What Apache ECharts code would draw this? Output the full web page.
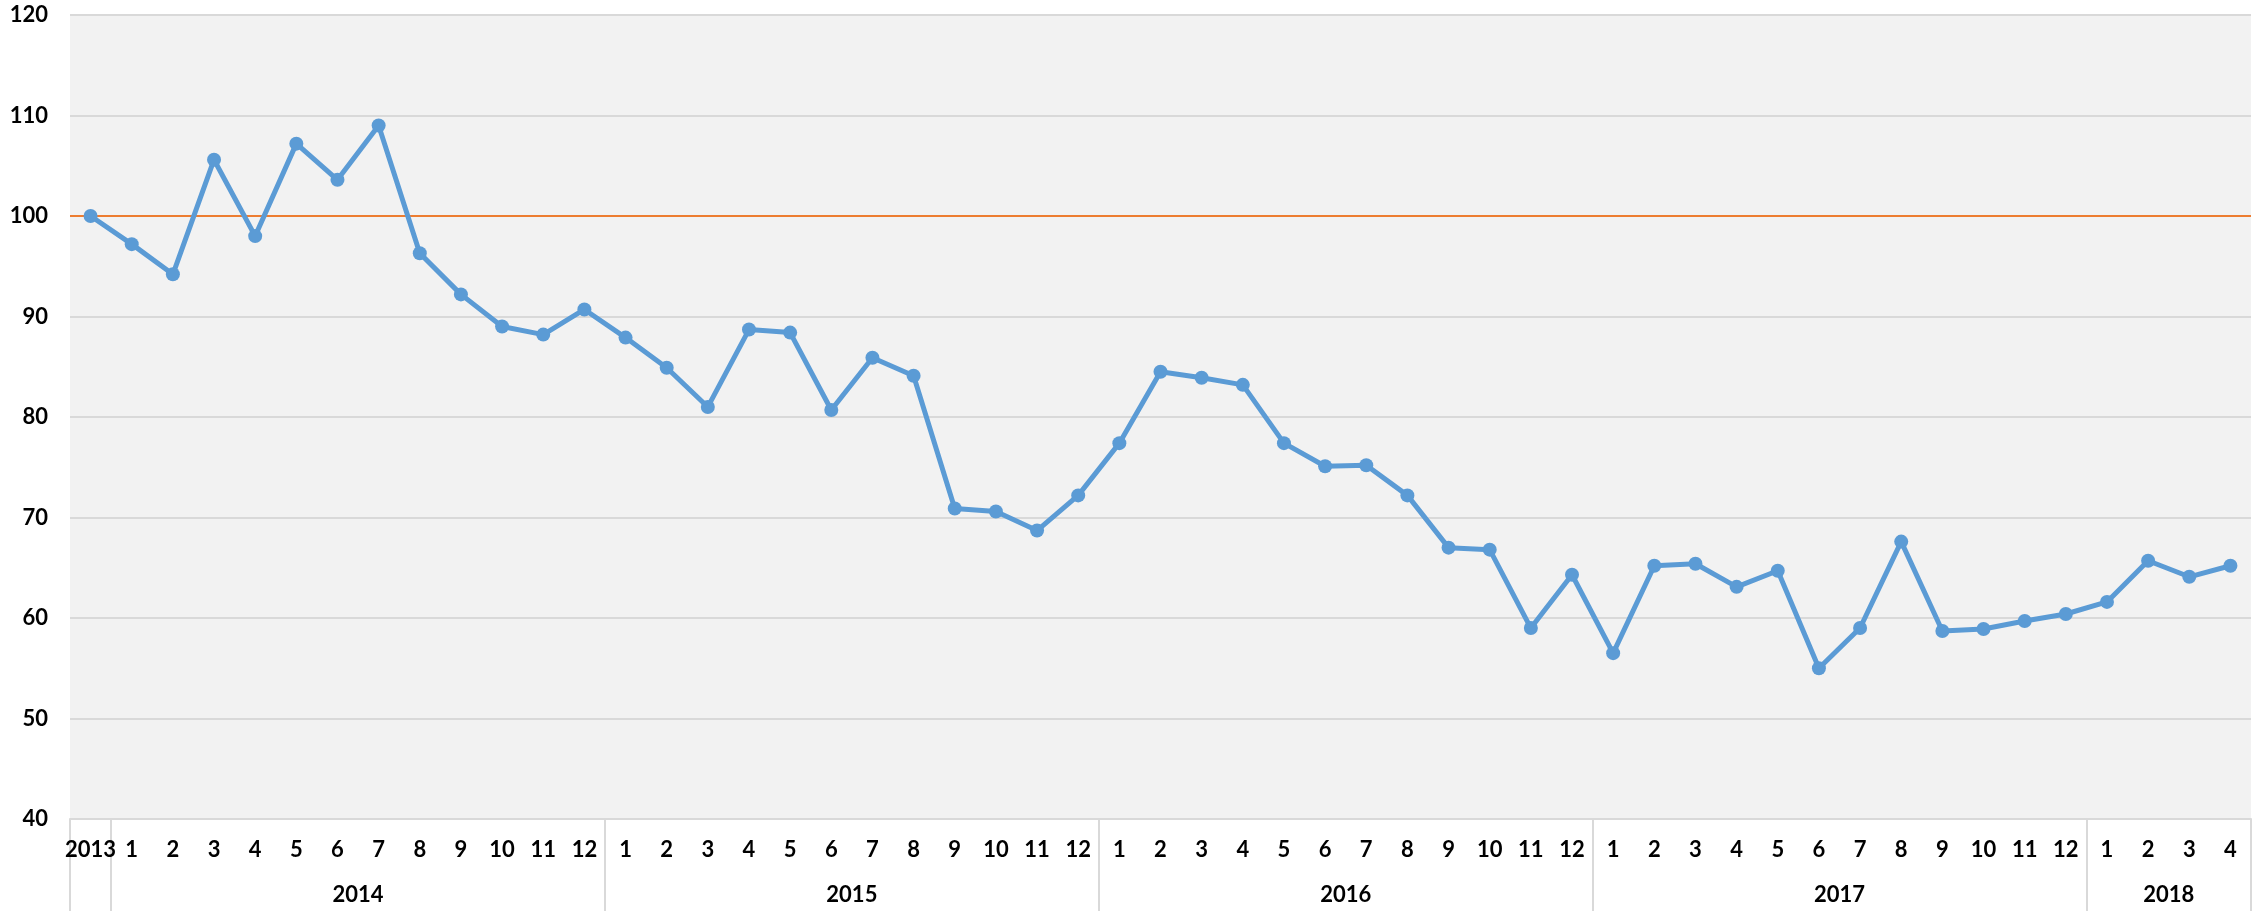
<!DOCTYPE html>
<html>
<head>
<meta charset="utf-8">
<script src="https://cdn.jsdelivr.net/npm/echarts@6/dist/echarts.min.js"></script>
<style>
  html, body { margin: 0; padding: 0; background: #ffffff; }
  #chart { width: 2267px; height: 911px; }
</style>
</head>
<body>
<div id="chart"></div>
<script>
// Month labels along the axis (first point is the 2013 base)
const months = ['2013',
  '1','2','3','4','5','6','7','8','9','10','11','12',
  '1','2','3','4','5','6','7','8','9','10','11','12',
  '1','2','3','4','5','6','7','8','9','10','11','12',
  '1','2','3','4','5','6','7','8','9','10','11','12',
  '1','2','3','4'];

// Year groups: label and number of months in each
const yearGroups = ['2013', '2014', '2015', '2016', '2017', '2018'];
const yearSizes = [1, 12, 12, 12, 12, 4];

// Index values (2013 = 100)
const indexValues = [
  100.0,
  97.2, 94.2, 105.6, 98.0, 107.2, 103.6, 109.0, 96.3, 92.2, 89.0, 88.2, 90.7,
  87.9, 84.9, 81.0, 88.7, 88.4, 80.7, 85.9, 84.1, 70.9, 70.6, 68.7, 72.2,
  77.4, 84.5, 83.9, 83.2, 77.4, 75.1, 75.2, 72.2, 67.0, 66.8, 59.0, 64.3,
  56.5, 65.2, 65.4, 63.1, 64.7, 55.0, 59.0, 67.6, 58.7, 58.9, 59.7, 60.4,
  61.6, 65.7, 64.1, 65.2
];

// Reference level
const baseLevel = 100;

// Y axis range
const yMin = 40, yMax = 120, yStep = 10;

// Group boundaries and centres on a 0..N scale for the second axis row
const boundaries = [0];
const centres = [];
yearSizes.forEach((n, i) => {
  const start = boundaries[boundaries.length - 1];
  boundaries.push(start + n);
  centres.push(start + n / 2);
});
const total = boundaries[boundaries.length - 1];

const FONT = 'Lato';
const labelStyle = { color: '#000000', fontFamily: FONT, fontWeight: 'bold', fontSize: 22 };

const chart = echarts.init(document.getElementById('chart'), null, { renderer: 'canvas' });

chart.setOption({
  animation: false,
  backgroundColor: '#ffffff',
  grid: {
    left: 70, right: 16, top: 15, bottom: 92,
    show: true, backgroundColor: '#F2F2F2', borderWidth: 0
  },
  xAxis: [
    {
      type: 'category',
      data: months,
      boundaryGap: true,
      position: 'bottom',
      axisLine: { show: true, lineStyle: { color: '#D9D9D9', width: 2 } },
      axisTick: { show: false },
      axisLabel: Object.assign({ margin: 20, interval: 0 }, labelStyle),
      splitLine: { show: false }
    },
    {
      type: 'value',
      min: 0,
      max: total,
      position: 'bottom',
      axisLine: { show: false },
      axisTick: {
        show: true,
        customValues: boundaries,
        length: 92,
        lineStyle: { color: '#D9D9D9', width: 2 }
      },
      axisLabel: Object.assign({
        margin: 65,
        customValues: centres.slice(1),
        formatter: function (v) {
          const i = centres.indexOf(v);
          return i >= 0 ? yearGroups[i] : '';
        }
      }, labelStyle),
      splitLine: { show: false }
    }
  ],
  yAxis: {
    type: 'value',
    min: yMin,
    max: yMax,
    interval: yStep,
    axisLine: { show: false },
    axisTick: { show: false },
    axisLabel: Object.assign({ margin: 22 }, labelStyle),
    splitLine: { show: true, lineStyle: { color: '#D9D9D9', width: 2 } }
  },
  series: [
    {
      type: 'line',
      data: indexValues,
      xAxisIndex: 0,
      symbol: 'circle',
      symbolSize: 14,
      lineStyle: { color: '#5B9BD5', width: 5 },
      itemStyle: { color: '#5B9BD5' },
      z: 3,
      markLine: {
        silent: true,
        symbol: ['none', 'none'],
        label: { show: false },
        lineStyle: { color: '#ED7D31', width: 2, type: 'solid' },
        data: [{ yAxis: baseLevel }],
        z: 2
      }
    }
  ]
});
</script>
</body>
</html>
